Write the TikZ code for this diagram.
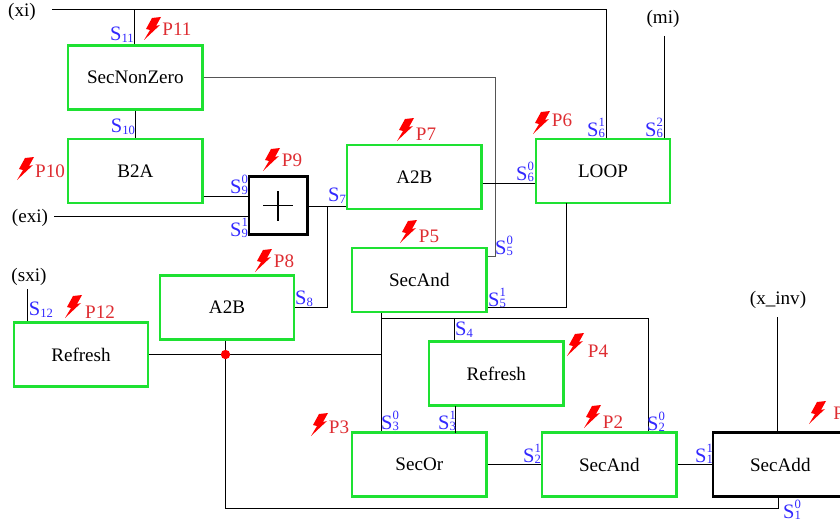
\documentclass[tikz,border=0pt]{standalone}
\usepackage{fontspec}
\setmainfont{Liberation Serif}
\usetikzlibrary{positioning,calc}
\definecolor{boxgreen}{RGB}{30,225,50}
\definecolor{sigblue}{RGB}{50,40,255}
\definecolor{probered}{RGB}{222,45,50}
\definecolor{wiregray}{RGB}{85,85,85}
\tikzset{
	block/.style={draw=boxgreen,line width=1.8pt,minimum width=4.03cm,minimum height=1.92cm,inner sep=0pt,font=\fontsize{16.3}{18}\selectfont},
	blackblock/.style={block,draw=black,line width=2.2pt},
	wire/.style={line width=0.8pt,black},
	graywire/.style={line width=0.7pt,wiregray},
	sig/.style={text=sigblue,inner sep=0pt,font=\fontsize{17.5}{18}\selectfont},
	prb/.style={text=probered,inner sep=0pt,font=\fontsize{16.3}{18}\selectfont},
	ext/.style={inner sep=0pt,font=\fontsize{16.3}{18}\selectfont},
}
\newcommand{\flash}[1]{\fill[red,shift={(#1)}] (-0.03,0.30) -- (0.24,0.33) -- (0.09,0.06) -- (0.21,0.09) -- (-0.27,-0.36) -- (-0.09,-0.06) -- (-0.21,-0.03) -- cycle;}
\newcommand{\shr}[2]{S\rlap{\raisebox{-0.8pt}{\fontsize{10.8}{11}\selectfont #1}}\raisebox{8.5pt}{\fontsize{10.8}{11}\selectfont #2}}
\newcommand{\shrs}[1]{S\raisebox{-1.7pt}{\fontsize{10.8}{11}\selectfont #1}}
\begin{document}
\begin{tikzpicture}
	\useasboundingbox (0,0) rectangle (25.2,15.66);
	% blocks
	\node[block] (nonzero) at (4.06,13.335) {SecNonZero};
	\node[block] (btoa) at (4.06,10.53) {B2A};
	\node[blackblock,minimum width=1.75cm,minimum height=1.75cm] (plus) at (8.35,9.495) {};
	\node[block] (atobtop) at (12.43,10.35) {A2B};
	\node[block] (loop) at (18.09,10.53) {LOOP};
	\node[block] (andtop) at (12.58,7.26) {SecAnd};
	\node[block] (atoblow) at (6.81,6.435) {A2B};
	\node[block] (refleft) at (2.43,5.025) {Refresh};
	\node[block] (refmid) at (14.89,4.455) {Refresh};
	\node[block] (secor) at (12.58,1.725) {SecOr};
	\node[block] (andlow) at (18.28,1.725) {SecAnd};
	\node[blackblock] (secadd) at (23.41,1.725) {SecAdd};
	\draw[line width=1.5pt] ($(plus.center)+(-0.45,0)$) -- ($(plus.center)+(0.45,0)$);
	\draw[line width=1.5pt] ($(plus.center)+(0,-0.45)$) -- ($(plus.center)+(0,0.45)$);
	% inputs
	\node[ext] (xi) at (0.66,15.3) {(xi)};
	\node[ext] (exi) at (0.9,9.12) {(exi)};
	\node[ext] (sxi) at (0.87,7.35) {(sxi)};
	\node[ext] (mi) at (19.89,15.09) {(mi)};
	\node[ext] (xinv) at (23.34,6.66) {(x\_inv)};
	\coordinate (xistart) at (1.56,15.375);
	\coordinate (xibranch) at (4.035,15.375);
	\coordinate (xiloop) at (18.2,15.375);
	\coordinate (existart) at (1.62,9.18);
	\coordinate (sxistart) at (0.825,6.99);
	\coordinate (mistart) at (19.94,14.58);
	\coordinate (xinvstart) at (23.32,6.15);
	\coordinate (dot) at (6.765,5.025);
	\coordinate (bus) at (11.44,6.1);
	\coordinate (refjoin) at (11.44,5.025);
	\coordinate (plusjoin) at (9.83,9.48);
	% wires
	\draw[wire] (xistart) -- (xiloop) -- (xiloop |- loop.north);
	\draw[wire] (xibranch) -- (xibranch |- nonzero.north);
	\draw[wire] (nonzero.south) -- (btoa.north);
	\draw[graywire] (nonzero.east) -- (14.87,13.335) -- (14.87,7.98) -- (14.87,7.98 -| andtop.east);
	\draw[wire] (btoa.east |- 0,9.78) -- (plus.west |- 0,9.78);
	\draw[wire] (existart) -- (existart -| plus.west);
	\draw[wire] (plus.east |- plusjoin) -- (plusjoin -| atobtop.west);
	\draw[wire] (plusjoin) |- (atoblow.east);
	\draw[wire] (atobtop.east |- 0,10.17) -- (loop.west |- 0,10.17);
	\draw[wire] (17,9.57) -- (17,6.45) -- (17,6.45 -| andtop.east);
	\draw[wire] (mistart) -- (mistart |- loop.north);
	\draw[wire] (sxistart) -- (sxistart |- refleft.north);
	\draw[wire] (refleft.east) -- (refjoin);
	\draw[wire] (atoblow.south -| dot) -- (dot);
	\draw[wire] (dot) -- (6.765,0.405) -- (23.36,0.405) -- (23.36,0.405 |- secadd.south);
	\draw[wire] (bus |- andtop.south) -- (bus |- secor.north);
	\draw[wire] (bus) -- (19.45,6.1) -- (19.45,6.1 |- andlow.north);
	\draw[wire] (13.635,6.1) -- (13.635,6.1 |- refmid.north);
	\draw[wire] (13.665,3.48) -- (13.665,2.685);
	\draw[wire] (secor.east) -- (andlow.west);
	\draw[wire] (andlow.east) -- (secadd.west);
	\draw[wire] (xinvstart) -- (xinvstart |- secadd.north);
	\fill[red] (dot) circle (0.14);
	% shares
	\node[sig] (s11) at (3.66,14.61) {\shrs{11}};
	\node[sig] (s10) at (3.69,11.85) {\shrs{10}};
	\node[sig] (s90) at (7.17,10.11) {\shr{9}{0}};
	\node[sig] (s91) at (7.17,8.82) {\shr{9}{1}};
	\node[sig] (s7) at (10.11,9.78) {\shrs{7}};
	\node[sig] (s60) at (15.75,10.5) {\shr{6}{0}};
	\node[sig] (s61) at (17.88,11.82) {\shr{6}{1}};
	\node[sig] (s62) at (19.62,11.82) {\shr{6}{2}};
	\node[sig] (s50) at (15.12,8.28) {\shr{5}{0}};
	\node[sig] (s51) at (14.91,6.72) {\shr{5}{1}};
	\node[sig] (s8) at (9.12,6.69) {\shrs{8}};
	\node[sig] (s12) at (1.23,6.36) {\shrs{12}};
	\node[sig] (s4) at (13.92,5.76) {\shrs{4}};
	\node[sig] (s30) at (11.7,3.03) {\shr{3}{0}};
	\node[sig] (s31) at (13.41,3.03) {\shr{3}{1}};
	\node[sig] (s21) at (15.96,2.04) {\shr{2}{1}};
	\node[sig] (s20) at (19.68,3.0) {\shr{2}{0}};
	\node[sig] (s11b) at (21.12,2.04) {\shr{1}{1}};
	\node[sig] (s10b) at (23.76,0.36) {\shr{1}{0}};
	% probes
	\node[prb] (p11) at (5.31,14.79) {P11};
	\node[prb] (p10) at (1.5,10.53) {P10};
	\node[prb] (p9) at (8.76,10.86) {P9};
	\node[prb] (p7) at (12.78,11.64) {P7};
	\node[prb] (p6) at (16.86,12.06) {P6};
	\node[prb] (p5) at (12.87,8.58) {P5};
	\node[prb] (p8) at (8.52,7.83) {P8};
	\node[prb] (p12) at (3,6.3) {P12};
	\node[prb] (p4) at (17.94,5.13) {P4};
	\node[prb] (p3) at (10.17,2.85) {P3};
	\node[prb] (p2) at (18.39,3) {P2};
	\node[prb] (p1) at (25.3,3.27) {P1};
	\flash{4.59,14.82}
	\flash{0.78,10.62}
	\flash{8.16,10.89}
	\flash{12.18,11.79}
	\flash{16.26,12}
	\flash{12.27,8.73}
	\flash{7.92,7.86}
	\flash{2.22,6.48}
	\flash{17.28,5.34}
	\flash{9.6,2.94}
	\flash{17.79,3.18}
	\flash{24.54,3.3}
\end{tikzpicture}
\end{document}
